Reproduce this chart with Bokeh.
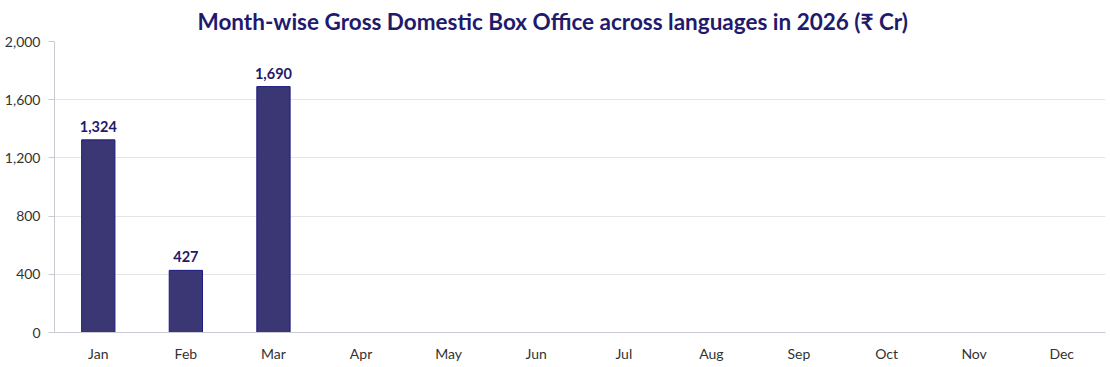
from bokeh.plotting import figure
from bokeh.models import ColumnDataSource, NumeralTickFormatter, FixedTicker, LabelSet, Range1d
from bokeh.core.properties import value
from bokeh.embed import file_html
from bokeh.resources import INLINE

months = ["Jan", "Feb", "Mar", "Apr", "May", "Jun", "Jul", "Aug", "Sep", "Oct", "Nov", "Dec"]
bar_months = ["Jan", "Feb", "Mar"]
gross = [1324, 427, 1690]
labels = ["1,324", "427", "1,690"]
y_ticks = [0, 400, 800, 1200, 1600, 2000]

src = ColumnDataSource(dict(m=bar_months, v=gross, lab=labels))

p = figure(x_range=months, width=1110, height=367, output_backend="svg",
           toolbar_location=None, tools="",
           min_border_left=54, min_border_right=5, min_border_top=41, min_border_bottom=35)
p.y_range = Range1d(0, 2000)
p.outline_line_color = None

p.title.text = "Month-wise Gross Domestic Box Office across languages in 2026 (₹ Cr)"
p.title.align = "left"
p.title.text_font = "Lato"
p.title.text_font_size = "22.5px"
p.title.text_font_style = "bold"
p.title.text_color = "#1f1a6b"
p.title.offset = 143
p.title.vertical_align = "top"

p.vbar(x="m", top="v", width=0.38, source=src, fill_color="#3b3775", line_color="#1c1a80", line_width=1)

p.add_layout(LabelSet(x="m", y="v", text="lab", source=src, y_offset=8, text_align="center",
                      text_baseline="bottom", text_font=value("Lato"), text_font_size="14.5px",
                      text_font_style="bold", text_color="#1f1a6b"))

p.yaxis.ticker = FixedTicker(ticks=y_ticks)
p.yaxis.formatter = NumeralTickFormatter(format="0,0")
p.yaxis.axis_line_color = "#c8ccd2"
p.yaxis.major_tick_line_color = "#c8ccd2"
p.yaxis.major_tick_in = 0
p.yaxis.major_tick_out = 6
p.yaxis.minor_tick_line_color = None
p.yaxis.major_label_text_font = "Lato"
p.yaxis.major_label_text_font_size = "14px"
p.yaxis.major_label_text_color = "#333333"
p.yaxis.major_label_standoff = 8

p.xaxis.axis_line_color = "#c8ccd2"
p.xaxis.major_tick_line_color = None
p.xaxis.minor_tick_line_color = None
p.xaxis.major_label_text_font = "Lato"
p.xaxis.major_label_text_font_size = "14px"
p.xaxis.major_label_text_color = "#333333"
p.xaxis.major_label_standoff = 6

p.xgrid.grid_line_color = None
p.ygrid.grid_line_color = "#e3e5e8"
p.ygrid.ticker = FixedTicker(ticks=y_ticks)

open("out.html", "w").write(file_html(p, INLINE))
